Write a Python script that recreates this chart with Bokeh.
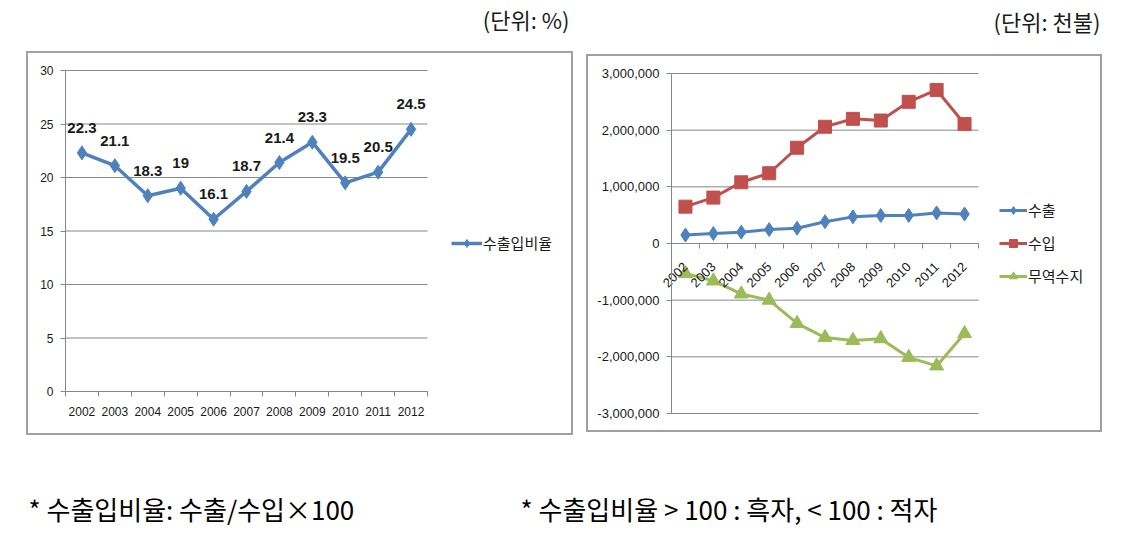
import math
from bokeh.plotting import figure
from bokeh.models import (Range1d, FixedTicker, Legend, LegendItem, ColumnDataSource,
                          Label, NumeralTickFormatter, Spacer)
from bokeh.layouts import column, row
from bokeh.embed import file_html
from bokeh.resources import INLINE
from bokeh.core.properties import value

# ---------------- data ----------------
years = ["2002", "2003", "2004", "2005", "2006", "2007", "2008", "2009", "2010", "2011", "2012"]
ratio = [22.3, 21.1, 18.3, 19, 16.1, 18.7, 21.4, 23.3, 19.5, 20.5, 24.5]
exports = [150000, 175000, 200000, 245000, 270000, 385000, 470000, 495000, 495000, 540000, 520000]
imports = [650000, 810000, 1080000, 1240000, 1690000, 2060000, 2200000, 2170000, 2500000, 2710000, 2110000]
balance = [-530000, -660000, -890000, -1000000, -1410000, -1660000, -1710000, -1680000, -2010000, -2160000, -1590000]
left_yticks = [0, 5, 10, 15, 20, 25, 30]
right_yticks = [-3000000, -2000000, -1000000, 0, 1000000, 2000000, 3000000]
series_names = ["수출", "수입", "무역수지"]
ratio_name = "수출입비율"
unit_left = "(단위: %)"
unit_right = "(단위: 천불)"
note_left = "* 수출입비율: 수출/수입×100"
note_right = "* 수출입비율 > 100 : 흑자, < 100 : 적자"

BLUE = "#4F81BD"
RED = "#C0504D"
GREEN = "#9BBB59"
GRID = "#878787"
FRAME = "#A0A0A0"
TXT = "#1A1A1A"
KFONT = "Noto Sans CJK KR"
NFONT = "Liberation Sans"

n = len(years)
xpos = [i + 0.5 for i in range(n)]
bounds = list(range(n + 1))
overrides = {x: y for x, y in zip(xpos, years)}


def px_range(v0, v1, p0, p1, total):
    """Range whose values v0..v1 fall at pixels p0..p1 of a canvas of size total."""
    per = (p1 - p0) / (v1 - v0)
    return Range1d(v0 - p0 / per, v1 + (total - p1) / per)


def chart_fig(w, h, xr, yr, yticks, ylo, yhi):
    # The whole canvas is the plot frame; its outline is the chart's border box.
    p = figure(width=w, height=h, x_range=xr, y_range=yr, output_backend="svg",
               toolbar_location=None, min_border=0)
    p.outline_line_color = FRAME
    p.outline_line_width = 3
    p.background_fill_color = "white"
    p.border_fill_color = "white"
    p.grid.visible = False
    # gridlines spanning only the plot area
    p.segment(x0=[0] * len(yticks), y0=yticks, x1=[n] * len(yticks), y1=yticks,
              line_color=GRID, line_width=1, level="underlay")
    xa = p.xaxis[0]
    xa.fixed_location = 0
    xa.bounds = (0, n)
    xa.ticker = FixedTicker(ticks=xpos, minor_ticks=bounds)
    xa.major_label_overrides = overrides
    xa.major_tick_line_color = None
    xa.minor_tick_line_color = GRID
    xa.minor_tick_in = 0
    xa.minor_tick_out = 5
    xa.axis_line_color = GRID
    ya = p.yaxis[0]
    ya.fixed_location = 0
    ya.bounds = (ylo, yhi)
    ya.ticker = FixedTicker(ticks=yticks)
    ya.axis_line_color = GRID
    ya.minor_tick_line_color = None
    ya.major_tick_line_color = GRID
    ya.major_tick_in = 0
    ya.major_tick_out = 5
    for ax in (xa, ya):
        ax.major_label_text_font = NFONT
        ax.major_label_text_color = TXT
    return p


# ---------------- top strip: unit labels ----------------
pt = figure(width=1124, height=51, x_range=Range1d(0, 1124), y_range=Range1d(51, 0),
            output_backend="svg", toolbar_location=None, min_border=0)
pt.axis.visible = False
pt.grid.visible = False
pt.outline_line_color = None
pt.add_layout(Label(x=569, y=18, text=unit_left, text_align="right", text_baseline="middle",
                    text_font=KFONT, text_font_size="22px", text_color=TXT))
pt.add_layout(Label(x=1100, y=20, text=unit_right, text_align="right", text_baseline="middle",
                    text_font=KFONT, text_font_size="22px", text_color=TXT))

# ---------------- left chart (box 547 x 384) ----------------
LW, LH = 547, 384
pl = chart_fig(LW, LH, px_range(0, n, 39, 401, LW), px_range(0, 30, LH - 340, LH - 19, LH),
               left_yticks, 0, 30)
pl.yaxis.major_label_text_font_size = "12px"
pl.yaxis.major_label_standoff = 7
pl.xaxis.major_label_text_font_size = "12px"
pl.xaxis.major_tick_out = 5
pl.xaxis.major_label_standoff = 10

src_l = ColumnDataSource(dict(x=xpos, y=ratio, label=[f"{v:g}" for v in ratio]))
rl1 = pl.line("x", "y", source=src_l, line_color=BLUE, line_width=3.5)
rl2 = pl.scatter("x", "y", source=src_l, marker="diamond", size=14, fill_color=BLUE, line_color=BLUE)
pl.text("x", "y", text="label", source=src_l, text_font=value(NFONT), text_font_style="bold",
        text_font_size="15px", text_align="center", text_baseline="middle", y_offset=-25,
        text_color=TXT)

leg_l = Legend(items=[LegendItem(label=ratio_name, renderers=[rl1, rl2])],
               location=(425, LH - 202), border_line_color=None, background_fill_alpha=0,
               padding=0, margin=0, glyph_width=31, glyph_height=20, label_standoff=1,
               label_text_font=KFONT, label_text_font_size="15px", label_text_color=TXT)
pl.add_layout(leg_l)

# ---------------- right chart (box 516 x 378) ----------------
RW, RH = 516, 378
pr = chart_fig(RW, RH, px_range(0, n, 85, 392, RW),
               px_range(-3000000, 3000000, RH - 359, RH - 19, RH),
               right_yticks, -3000000, 3000000)
pr.yaxis.formatter = NumeralTickFormatter(format="0,0")
pr.yaxis.major_label_text_font_size = "13px"
pr.yaxis.major_label_standoff = 7
pr.xaxis.major_label_orientation = math.pi / 4
pr.xaxis.major_label_text_font_size = "13px"
pr.xaxis.major_tick_out = 5
pr.xaxis.major_label_standoff = 16

items = []
for name, vals, col, mk, sz in zip(series_names, [exports, imports, balance],
                                     [BLUE, RED, GREEN],
                                     ["diamond", "square", "triangle"], [14, 13, 14]):
    s = ColumnDataSource(dict(x=xpos, y=vals))
    a = pr.line("x", "y", source=s, line_color=col, line_width=3)
    b = pr.scatter("x", "y", source=s, marker=mk, size=sz, fill_color=col, line_color=col)
    items.append(LegendItem(label=name, renderers=[a, b]))

leg_r = Legend(items=items, location=(413, RH - 232), border_line_color=None, background_fill_alpha=0,
               padding=0, margin=0, glyph_width=28, glyph_height=20, label_standoff=1, spacing=12,
               label_text_font=KFONT, label_text_font_size="15px", label_text_color=TXT)
pr.add_layout(leg_r)

# ---------------- footnotes ----------------
FH = 110
pf = figure(width=1124, height=FH, x_range=Range1d(0, 1124), y_range=Range1d(FH, 0),
            output_backend="svg", toolbar_location=None, min_border=0)
pf.axis.visible = False
pf.grid.visible = False
pf.outline_line_color = None
pf.add_layout(Label(x=28, y=73, text=note_left, text_baseline="middle", text_font=KFONT,
                    text_font_size="26px", text_color="#000000"))
pf.add_layout(Label(x=520, y=73, text=note_right, text_baseline="middle", text_font=KFONT,
                    text_font_size="26px", text_color="#000000"))

charts = row(Spacer(width=26, height=LH), pl, Spacer(width=13, height=LH),
             column(Spacer(width=RW, height=3), pr))
layout = column(pt, charts, pf)
open("out.html", "w").write(file_html(layout, INLINE))
